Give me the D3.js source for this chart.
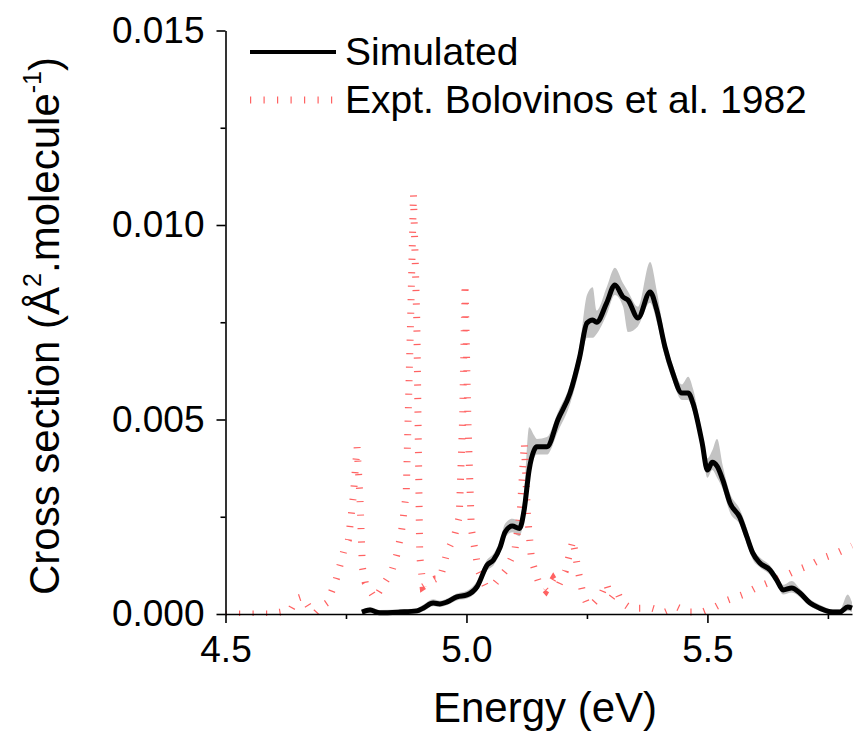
<html>
    <head>
        <title>Cross section</title>
        <style>
            body { margin: 0; background: #fff; }
            text { font-family: Arial, "Liberation Sans", sans-serif; }
        </style>
    </head>
    <body>

        <div id="chart-area"></div>

        <script src="https://d3js.org/d3.v7.min.js"></script>

        <script>

            const W = 853
            const H = 737
            const PLOT = { LEFT: 225.5, RIGHT: 852, TOP: 30.5, BOTTOM: 614 }

            // Simulated spectrum (eV, A^2/molecule) + uncertainty band
            const simE  = [4.783, 4.80, 4.82, 4.862, 4.897, 4.91, 4.931, 4.945, 4.96, 4.98, 5.001, 5.022, 5.043, 5.056, 5.07, 5.08, 5.095, 5.11, 5.12, 5.13, 5.14, 5.146, 5.167, 5.19, 5.215, 5.235, 5.25, 5.262, 5.27, 5.291, 5.308, 5.325, 5.335, 5.356, 5.381, 5.395, 5.412, 5.428, 5.447, 5.46, 5.47, 5.489, 5.50, 5.51, 5.52, 5.532, 5.547, 5.567, 5.582, 5.594, 5.609, 5.63, 5.644, 5.657, 5.675, 5.692, 5.713, 5.733, 5.76, 5.775, 5.791, 5.80]
            const simY  = [0.00005, 0.0001, 0.00003, 0.00005, 0.00008, 0.00015, 0.00028, 0.00026, 0.00031, 0.00044, 0.00049, 0.0007, 0.00126, 0.00139, 0.00172, 0.0021, 0.00226, 0.0022, 0.0027, 0.0037, 0.0042, 0.0043, 0.0043, 0.0050, 0.00568, 0.00661, 0.00748, 0.00756, 0.0075, 0.0080, 0.00846, 0.00815, 0.00807, 0.00761, 0.00828, 0.00781, 0.00686, 0.0062, 0.00568, 0.00568, 0.00542, 0.0044, 0.0037, 0.0039, 0.0038, 0.00344, 0.00285, 0.00249, 0.00198, 0.00157, 0.00131, 0.00113, 0.00087, 0.00062, 0.00067, 0.00054, 0.00028, 0.00015, 0.00005, 0.00005, 0.00018, 0.00015]
            const simLo = [0, 0.00003, 0, 0, 0.00001, 0.00007, 0.0002, 0.00018, 0.00023, 0.00035, 0.0004, 0.0006, 0.00112, 0.00125, 0.00158, 0.00195, 0.0021, 0.002, 0.0025, 0.0035, 0.0040, 0.0041, 0.0041, 0.0047, 0.0054, 0.0063, 0.0071, 0.0071, 0.0072, 0.0077, 0.0082, 0.0079, 0.00725, 0.0074, 0.0080, 0.0075, 0.0066, 0.006, 0.0055, 0.0055, 0.0052, 0.0042, 0.0035, 0.0037, 0.0035, 0.0032, 0.0026, 0.0023, 0.0018, 0.0014, 0.0012, 0.001, 0.00075, 0.0005, 0.00055, 0.00043, 0.0002, 0.00008, 0, 0, 0.00008, 0.00005]
            const simHi = [0.0001, 0.00018, 0.0001, 0.00012, 0.00015, 0.00024, 0.00038, 0.00034, 0.0004, 0.00053, 0.0006, 0.00085, 0.0014, 0.00155, 0.0019, 0.00232, 0.00245, 0.0024, 0.0032, 0.0048, 0.0046, 0.0045, 0.00455, 0.0052, 0.0059, 0.0069, 0.0082, 0.0084, 0.0078, 0.0084, 0.0089, 0.0085, 0.0083, 0.0079, 0.00905, 0.0083, 0.0071, 0.0064, 0.0059, 0.0061, 0.0058, 0.0046, 0.0040, 0.0042, 0.0045, 0.0038, 0.0031, 0.0027, 0.0022, 0.0017, 0.00145, 0.00125, 0.001, 0.00075, 0.00085, 0.00065, 0.00038, 0.00024, 0.00012, 0.00012, 0.0005, 0.0003]

            // Experiment (Bolovinos et al. 1982)
            const expE = [4.50, 4.53, 4.56, 4.59, 4.615, 4.635, 4.648, 4.66, 4.672, 4.685, 4.70, 4.712, 4.73, 4.745, 4.755, 4.765, 4.773, 4.779, 4.784, 4.79, 4.81, 4.83, 4.845, 4.855, 4.865, 4.875, 4.884, 4.89, 4.897, 4.903, 4.91, 4.935, 4.945, 4.96, 4.975, 4.985, 4.992, 4.997, 5.003, 5.01, 5.025, 5.04, 5.06, 5.08, 5.10, 5.112, 5.12, 5.127, 5.135, 5.15, 5.165, 5.18, 5.19, 5.205, 5.221, 5.232, 5.242, 5.252, 5.265, 5.28, 5.29, 5.30, 5.312, 5.322, 5.34, 5.385, 5.412, 5.437, 5.46, 5.489, 5.516, 5.543, 5.572, 5.60, 5.63, 5.655, 5.686, 5.713, 5.74, 5.769, 5.80]
            const expY = [0, 0, 0, 0, 0.00005, 0.0001, 0.0004, 0.00045, 0.0002, 0, 0.0002, 0.0003, 0.0009, 0.0016, 0.0019, 0.003, 0.0043, 0.003, 0.0012, 0.0008, 0.0004, 0.0008, 0.0011, 0.0015, 0.0021, 0.0031, 0.0075, 0.0108, 0.0075, 0.0015, 0.0007, 0.0009, 0.0009, 0.0016, 0.002, 0.0025, 0.005, 0.0085, 0.005, 0.0022, 0.0011, 0.0007, 0.0008, 0.0011, 0.0016, 0.0027, 0.0044, 0.0025, 0.0014, 0.0008, 0.0006, 0.0009, 0.0007, 0.0011, 0.0019, 0.0011, 0.0005, 0.0002, 0.0003, 0.0005, 0.0008, 0.0004, 0.0006, 0.0003, 0.00015, 0.00015, 0.00005, 0.00018, 0.00005, 0.00005, 0.00018, 0.00036, 0.00049, 0.00067, 0.00082, 0.00095, 0.00113, 0.00126, 0.00144, 0.00157, 0.00175]

            const xMajor = [4.5, 5.0, 5.5]
            const xMinor = [4.75, 5.25, 5.75]
            const yMajor = [0, 0.005, 0.010, 0.015]
            const yMinor = [0.0025, 0.0075, 0.0125]

            const FONT = "Arial, 'Liberation Sans', sans-serif"

            const svg = d3.select("#chart-area")
                .append("svg")
                    .attr("width", W)
                    .attr("height", H)

            const x = d3.scaleLinear()
                .domain([4.5, 5.8])
                .range([PLOT.LEFT, PLOT.RIGHT])

            const y = d3.scaleLinear()
                .domain([0, 0.015])
                .range([PLOT.BOTTOM, PLOT.TOP])

            svg.append("clipPath")
                .attr("id", "clip")
                .append("rect")
                    .attr("x", PLOT.LEFT)
                    .attr("y", 0)
                    .attr("width", W - PLOT.LEFT)
                    .attr("height", PLOT.BOTTOM + 2)

            const plot = svg.append("g").attr("clip-path", "url(#clip)")

            // band
            const sim = simE.map((e, i) => ({ e: e, v: simY[i], lo: simLo[i], hi: simHi[i] }))

            plot.append("path")
                .datum(sim)
                .attr("fill", "#c3c3c3")
                .attr("d", d3.area()
                    .x(d => x(d.e))
                    .y0(d => y(d.lo))
                    .y1(d => y(d.hi))
                    .curve(d3.curveMonotoneX))

            // experiment - short dashes + wide stroke gives perpendicular ticks
            const expt = expE.map((e, i) => ({ e: e, v: expY[i] }))

            plot.append("path")
                .datum(expt)
                .attr("fill", "none")
                .attr("stroke", "#ff6262")
                .attr("stroke-width", 7)
                .attr("stroke-dasharray", "1.2 12.3")
                .attr("d", d3.line()
                    .x(d => x(d.e))
                    .y(d => y(d.v)))

            plot.append("path")
                .datum(sim)
                .attr("fill", "none")
                .attr("stroke", "#000")
                .attr("stroke-width", 5)
                .attr("stroke-linejoin", "round")
                .attr("d", d3.line()
                    .x(d => x(d.e))
                    .y(d => y(d.v))
                    .curve(d3.curveMonotoneX))

            // axes
            const xAxis = svg.append("g")
                .attr("transform", `translate(0, ${PLOT.BOTTOM})`)
                .call(d3.axisBottom(x)
                    .tickValues(xMajor)
                    .tickFormat(d3.format(".1f"))
                    .tickSize(9)
                    .tickSizeOuter(0)
                    .tickPadding(13))
            xAxis.selectAll(".tick text").attr("font-size", "37px").attr("font-family", FONT)

            svg.append("g")
                .attr("transform", `translate(0, ${PLOT.BOTTOM})`)
                .call(d3.axisBottom(x).tickValues(xMinor).tickSize(5).tickSizeOuter(0).tickFormat(""))
                .call(g => g.select(".domain").remove())

            const yAxis = svg.append("g")
                .attr("transform", `translate(${PLOT.LEFT}, 0)`)
                .call(d3.axisLeft(y)
                    .tickValues(yMajor)
                    .tickFormat(d3.format(".3f"))
                    .tickSize(9)
                    .tickSizeOuter(0)
                    .tickPadding(12))
            yAxis.selectAll(".tick text").attr("font-size", "37px").attr("font-family", FONT)

            svg.append("g")
                .attr("transform", `translate(${PLOT.LEFT}, 0)`)
                .call(d3.axisLeft(y).tickValues(yMinor).tickSize(5).tickSizeOuter(0).tickFormat(""))
                .call(g => g.select(".domain").remove())

            svg.selectAll(".domain, .tick line").attr("stroke-width", 1.6).attr("stroke", "#000")

            // titles
            svg.append("text")
                .attr("x", 545)
                .attr("y", 722)
                .attr("text-anchor", "middle")
                .attr("font-size", "42px")
                .text("Energy (eV)")

            const yt = svg.append("text")
                .attr("transform", `translate(59, 326) rotate(-90)`)
                .attr("text-anchor", "middle")
                .attr("font-size", "42px")
            yt.append("tspan").text("Cross section (Å")
            yt.append("tspan").attr("font-size", "25px").attr("dy", -18).text("2")
            yt.append("tspan").attr("dy", 18).text(".molecule")
            yt.append("tspan").attr("font-size", "25px").attr("dy", -18).text("-1")
            yt.append("tspan").attr("dy", 18).text(")")

            // legend
            const legend = svg.append("g")

            legend.append("line")
                .attr("x1", 250).attr("x2", 336)
                .attr("y1", 52).attr("y2", 52)
                .attr("stroke", "#000")
                .attr("stroke-width", 4)

            legend.append("text")
                .attr("x", 345).attr("y", 65)
                .attr("font-size", "39px")
                .text("Simulated")

            legend.append("line")
                .attr("x1", 250).attr("x2", 340)
                .attr("y1", 100).attr("y2", 100)
                .attr("stroke", "#ff6262")
                .attr("stroke-width", 7)
                .attr("stroke-dasharray", "1.2 12.3")

            legend.append("text")
                .attr("x", 345).attr("y", 113)
                .attr("font-size", "39px")
                .text("Expt. Bolovinos et al. 1982")

        </script>
    </body>
</html>
